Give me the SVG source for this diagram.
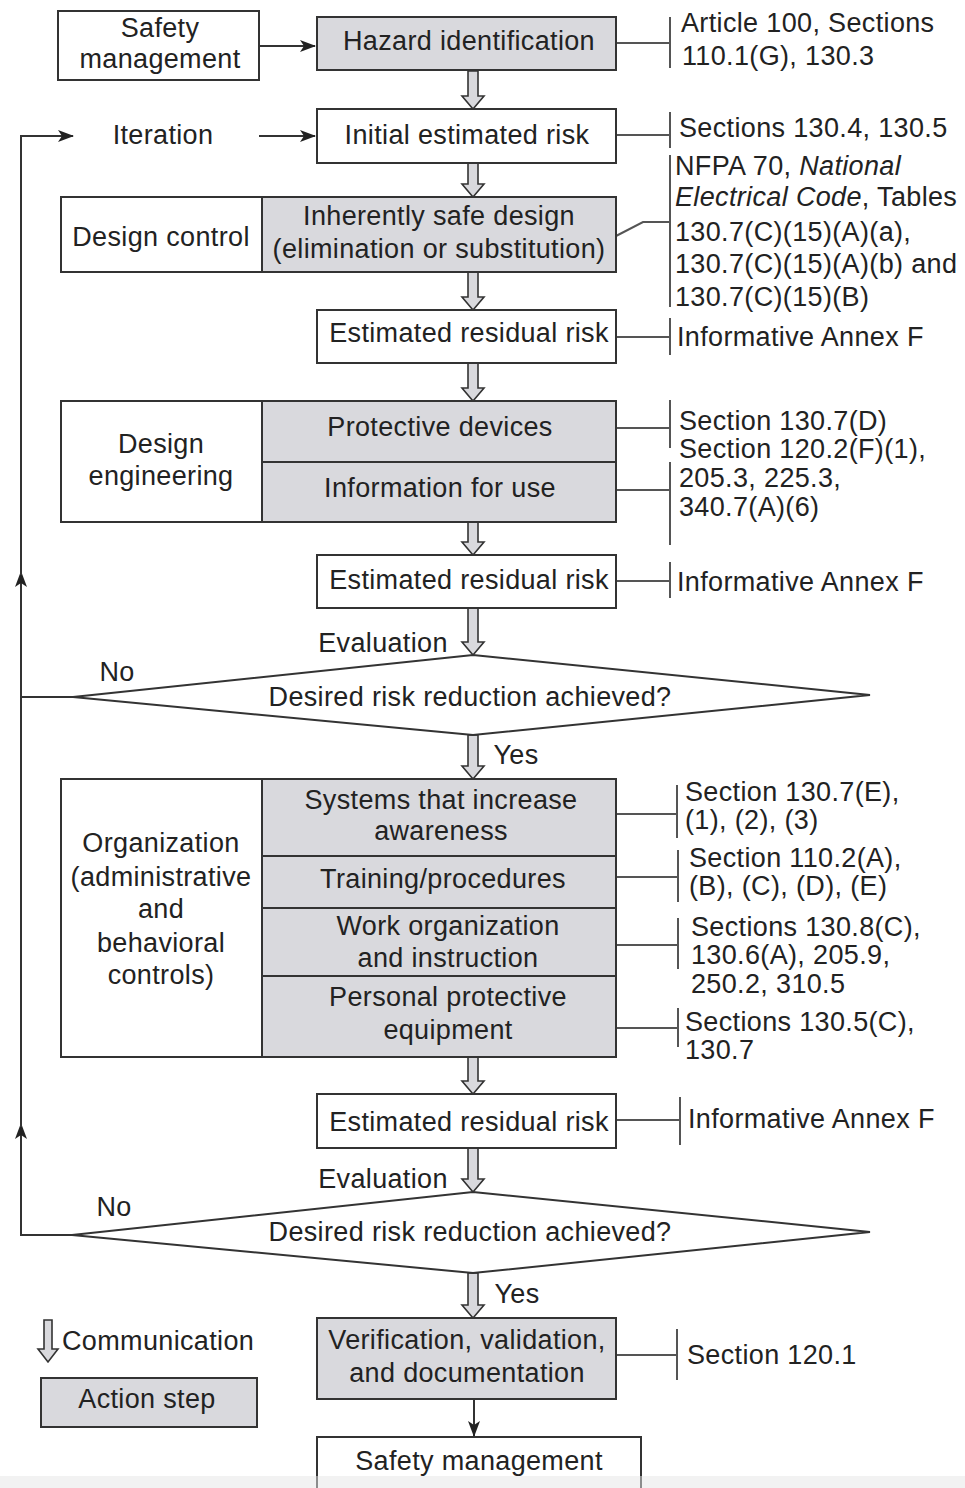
<svg xmlns="http://www.w3.org/2000/svg" width="965" height="1488" viewBox="0 0 965 1488">
<style>
text{font-family:"Liberation Sans",Arial,Helvetica,sans-serif;font-size:27px;fill:#222;letter-spacing:0.35px}
.c{text-anchor:middle}
.box{fill:#fff;stroke:#333;stroke-width:2}
.act{fill:#d9d9dd;stroke:#333;stroke-width:2}
.dia{fill:#fff;stroke:#333;stroke-width:2}
.ln{fill:none;stroke:#333;stroke-width:2}
.ref{fill:none;stroke:#555;stroke-width:2}
.comm{fill:#d9d9dd;stroke:#333;stroke-width:1.6;stroke-linejoin:miter}
.it{font-style:italic}
</style>
<defs>
<marker id="ah" markerWidth="16" markerHeight="12" refX="15" refY="6" orient="auto" markerUnits="userSpaceOnUse">
<path d="M0,0 L16,6 L0,12 L4,6 z" fill="#222"/>
</marker>
</defs>
<rect width="965" height="1488" fill="#fff"/>

<g id="connectors">
<line class="ln" x1="259" y1="46" x2="315" y2="46" marker-end="url(#ah)"/>
<line class="ln" x1="259" y1="136" x2="315" y2="136" marker-end="url(#ah)"/>
<polyline class="ln" points="73,697 21,697 21,572" marker-end="url(#ah)"/>
<polyline class="ln" points="21,575 21,136 73,136" marker-end="url(#ah)"/>
<polyline class="ln" points="72,1235 21,1235 21,1124" marker-end="url(#ah)"/>
<line class="ln" x1="21" y1="1127" x2="21" y2="697"/>
<line class="ln" x1="474" y1="1399" x2="474" y2="1436" marker-end="url(#ah)"/>
<path class="comm" d="M468,71 V96 H462 L473,109 L484,96 H478 V71 Z"/>
<path class="comm" d="M468,163 V184 H462 L473,197 L484,184 H478 V163 Z"/>
<path class="comm" d="M468,272 V297 H462 L473,310 L484,297 H478 V272 Z"/>
<path class="comm" d="M468,363 V388 H462 L473,401 L484,388 H478 V363 Z"/>
<path class="comm" d="M468,522 V542 H462 L473,555 L484,542 H478 V522 Z"/>
<path class="comm" d="M468,608 V642 H462 L473,655 L484,642 H478 V608 Z"/>
<path class="comm" d="M468,735 V766 H462 L473,779 L484,766 H478 V735 Z"/>
<path class="comm" d="M468,1057 V1081 H462 L473,1094 L484,1081 H478 V1057 Z"/>
<path class="comm" d="M468,1148 V1179 H462 L473,1192 L484,1179 H478 V1148 Z"/>
<path class="comm" d="M468,1273 V1305 H462 L473,1318 L484,1305 H478 V1273 Z"/>
<path class="ref" d="M616,43 H670 M670,17 V68"/>
<path class="ref" d="M616,135 H670 M670,112 V148"/>
<path class="ref" d="M616,236 L643,222 H670 M670,155 V307"/>
<path class="ref" d="M616,337 H670 M670,318 V355"/>
<path class="ref" d="M616,428 H670 M670,400 V448"/>
<path class="ref" d="M616,490 H670 M670,462 V545"/>
<path class="ref" d="M616,581 H670 M670,562 V598"/>
<path class="ref" d="M616,814 H677 M677,785 V838"/>
<path class="ref" d="M616,877 H678 M678,850 V902"/>
<path class="ref" d="M616,945 H678 M678,918 V969"/>
<path class="ref" d="M616,1028 H678 M678,1008 V1047"/>
<path class="ref" d="M616,1120 H680 M680,1097 V1145"/>
<path class="ref" d="M616,1355 H677 M677,1329 V1380"/>
</g>

<g id="safety-management-top">
<rect class="box" x="58" y="11" width="201" height="69"/>
<text class="c" x="160" y="37">Safety</text>
<text class="c" x="160" y="68">management</text>
</g>
<g id="hazard-identification">
<rect class="act" x="317" y="17" width="299" height="53"/>
<text class="c" x="469" y="50">Hazard identification</text>
</g>
<g id="iteration">
<text class="c" x="163" y="144">Iteration</text>
</g>
<g id="initial-estimated-risk">
<rect class="box" x="317" y="109" width="299" height="54"/>
<text class="c" x="467" y="144">Initial estimated risk</text>
</g>
<g id="design-control">
<rect class="box" x="61" y="197" width="201" height="75"/>
<text class="c" x="161" y="246">Design control</text>
</g>
<g id="inherently-safe-design">
<rect class="act" x="262" y="197" width="354" height="75"/>
<text class="c" x="439" y="225">Inherently safe design</text>
<text class="c" x="439" y="258">(elimination or substitution)</text>
</g>
<g id="estimated-residual-risk-1">
<rect class="box" x="317" y="310" width="299" height="53"/>
<text class="c" x="469" y="342">Estimated residual risk</text>
</g>
<g id="design-engineering">
<rect class="box" x="61" y="401" width="201" height="121"/>
<text class="c" x="161" y="453">Design</text>
<text class="c" x="161" y="485">engineering</text>
</g>
<g id="protective-devices">
<rect class="act" x="262" y="401" width="354" height="61"/>
<text class="c" x="440" y="436">Protective devices</text>
</g>
<g id="information-for-use">
<rect class="act" x="262" y="462" width="354" height="60"/>
<text class="c" x="440" y="497">Information for use</text>
</g>
<g id="estimated-residual-risk-2">
<rect class="box" x="317" y="555" width="299" height="53"/>
<text class="c" x="469" y="589">Estimated residual risk</text>
</g>
<g id="decision-1">
<text class="c" x="383" y="652">Evaluation</text>
<polygon class="dia" points="473,655 870,695 473,735 73,697"/>
<text class="c" x="470" y="706">Desired risk reduction achieved?</text>
<text class="c" x="117" y="681">No</text>
<text class="c" x="516" y="764">Yes</text>
</g>
<g id="organization">
<rect class="box" x="61" y="779" width="201" height="278"/>
<text class="c" x="161" y="852">Organization</text>
<text class="c" x="161" y="886">(administrative</text>
<text class="c" x="161" y="918">and</text>
<text class="c" x="161" y="952">behavioral</text>
<text class="c" x="161" y="984">controls)</text>
</g>
<g id="systems-awareness">
<rect class="act" x="262" y="779" width="354" height="77"/>
<text class="c" x="441" y="809">Systems that increase</text>
<text class="c" x="441" y="840">awareness</text>
</g>
<g id="training-procedures">
<rect class="act" x="262" y="856" width="354" height="52"/>
<text class="c" x="443" y="888">Training/procedures</text>
</g>
<g id="work-organization">
<rect class="act" x="262" y="908" width="354" height="68"/>
<text class="c" x="448" y="935">Work organization</text>
<text class="c" x="448" y="967">and instruction</text>
</g>
<g id="personal-protective-equipment">
<rect class="act" x="262" y="976" width="354" height="81"/>
<text class="c" x="448" y="1006">Personal protective</text>
<text class="c" x="448" y="1039">equipment</text>
</g>
<g id="estimated-residual-risk-3">
<rect class="box" x="317" y="1094" width="299" height="54"/>
<text class="c" x="469" y="1131">Estimated residual risk</text>
</g>
<g id="decision-2">
<text class="c" x="383" y="1188">Evaluation</text>
<polygon class="dia" points="473,1192 870,1232 473,1273 72,1235"/>
<text class="c" x="470" y="1241">Desired risk reduction achieved?</text>
<text class="c" x="114" y="1216">No</text>
<text class="c" x="517" y="1303">Yes</text>
</g>
<g id="verification">
<rect class="act" x="317" y="1318" width="299" height="81"/>
<text class="c" x="467" y="1349">Verification, validation,</text>
<text class="c" x="467" y="1382">and documentation</text>
</g>
<g id="safety-management-bottom">
<rect class="box" x="317" y="1437" width="324" height="70"/>
<text class="c" x="479" y="1470">Safety management</text>
</g>

<g id="references">
<text x="681" y="32">Article 100, Sections</text>
<text x="682" y="65">110.1(G), 130.3</text>
<text x="679" y="137">Sections 130.4, 130.5</text>
<text x="675" y="175">NFPA 70, <tspan class="it">National</tspan></text>
<text x="675" y="206"><tspan class="it">Electrical Code</tspan>, Tables</text>
<text x="675" y="241">130.7(C)(15)(A)(a),</text>
<text x="675" y="273">130.7(C)(15)(A)(b) and</text>
<text x="675" y="306">130.7(C)(15)(B)</text>
<text x="677" y="346">Informative Annex F</text>
<text x="679" y="430">Section 130.7(D)</text>
<text x="679" y="458">Section 120.2(F)(1),</text>
<text x="679" y="487">205.3, 225.3,</text>
<text x="679" y="516">340.7(A)(6)</text>
<text x="677" y="591">Informative Annex F</text>
<text x="685" y="801">Section 130.7(E),</text>
<text x="685" y="829">(1), (2), (3)</text>
<text x="689" y="867">Section 110.2(A),</text>
<text x="689" y="895">(B), (C), (D), (E)</text>
<text x="691" y="936">Sections 130.8(C),</text>
<text x="691" y="964">130.6(A), 205.9,</text>
<text x="691" y="993">250.2, 310.5</text>
<text x="685" y="1031">Sections 130.5(C),</text>
<text x="685" y="1059">130.7</text>
<text x="688" y="1128">Informative Annex F</text>
<text x="687" y="1364">Section 120.1</text>
</g>

<g id="legend">
<path class="comm" d="M44,1320 V1349 H38 L48,1362 L58,1349 H52 V1320 Z"/>
<text x="62" y="1350">Communication</text>
<rect class="act" x="41" y="1378" width="216" height="49"/>
<text class="c" x="147" y="1408">Action step</text>
</g>
<rect x="0" y="1476" width="965" height="12" fill="#e6e6e6" opacity="0.5"/>
</svg>
